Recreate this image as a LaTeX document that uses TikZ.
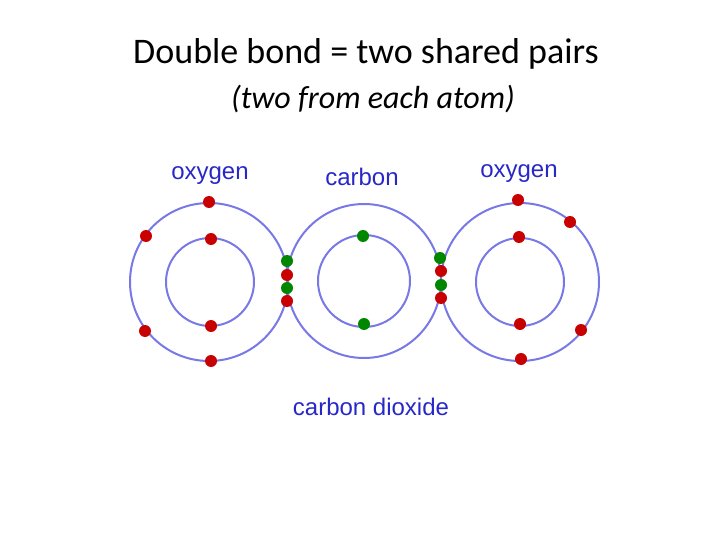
\documentclass[tikz,border=0pt]{standalone}
\usepackage{fontspec}
\setmainfont{Carlito}
\newfontfamily\arialf{Liberation Sans}
\begin{document}
\begin{tikzpicture}[x=1pt,y=-1pt,
  shell/.style={draw=orbit,line width=2pt},
  re/.style={circle,fill=ered,inner sep=0pt,minimum size=12pt},
  ge/.style={circle,fill=egreen,inner sep=0pt,minimum size=12pt},
  lab/.style={font=\arialf\fontsize{24}{28}\selectfont,text=labc}]
\definecolor{orbit}{RGB}{120,120,230}
\definecolor{ered}{RGB}{200,0,0}
\definecolor{egreen}{RGB}{0,135,0}
\definecolor{labc}{RGB}{40,40,200}
\useasboundingbox (0,0) rectangle (720,540);
\node (t1) at (366,54) {\fontsize{36}{40}\selectfont Double bond = two shared pairs};
\node (t2) at (373,99) {\fontsize{32}{36}\selectfont\itshape (two from each atom)};
\node[lab] (l1) at (210,176) {oxygen};
\node[lab] (l2) at (362,177) {carbon};
\node[lab] (l3) at (519,174) {oxygen};
\node[lab] (l4) at (371,407) {carbon dioxide};
\draw[shell] (209,282) circle (79);
\draw[shell] (210,282) circle (44);
\draw[shell] (364,281) circle (77);
\draw[shell] (364,281) circle (46);
\draw[shell] (520,282) circle (79);
\draw[shell] (520,282) circle (44);
\foreach \p [count=\i] in {(209,202),(211,239),(146,236),(145,331),(211,326),(211,361),(518,200),(570,222),(519,237),(520,324),(581,330),(521,359),(287,275),(287,301),(441,271),(441,298)}
  \node[re] (r\i) at \p {};
\foreach \p [count=\i] in {(363,236),(364,324),(287,261),(287,288),(440,258),(441,285)}
  \node[ge] (g\i) at \p {};
\end{tikzpicture}
\end{document}
